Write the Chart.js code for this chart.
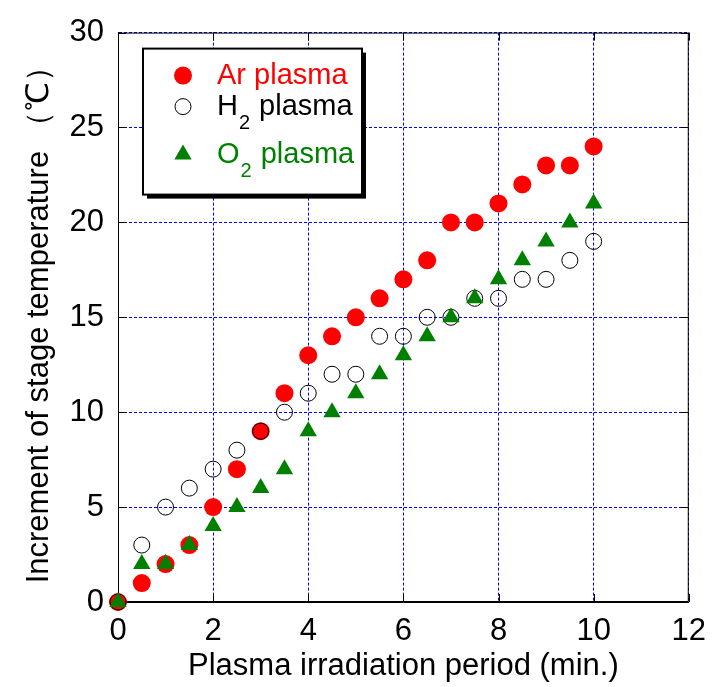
<!DOCTYPE html>
<html>
<head>
<meta charset="utf-8">
<script src="https://cdn.jsdelivr.net/npm/chart.js@4.4.1/dist/chart.umd.min.js"></script>
<style>
  html, body { margin: 0; padding: 0; background: #fff; }
  #wrap { width: 717px; height: 687px; }
</style>
</head>
<body>
<div id="wrap"><canvas id="plasmaChart"></canvas></div>
<script>
// plasma irradiation period (min.)
const periods = [0, 0.5, 1, 1.5, 2, 2.5, 3, 3.5, 4, 4.5, 5, 5.5, 6, 6.5, 7, 7.5, 8, 8.5, 9, 9.5, 10];
// increment of stage temperature
const arTemp = [0, 1, 2, 3, 5, 7, 9, 11, 13, 14, 15, 16, 17, 18, 20, 20, 21, 22, 23, 23, 24];
const h2Temp = [0, 3, 5, 6, 7, 8, 9, 10, 11, 12, 12, 14, 14, 15, 15, 16, 16, 17, 17, 18, 19];
const o2Temp = [0, 2, 2, 3, 4, 5, 6, 7, 9, 10, 11, 12, 13, 14, 15, 16, 17, 18, 19, 20, 21];

const xTicks = [0, 2, 4, 6, 8, 10, 12];
const yTicks = [0, 5, 10, 15, 20, 25, 30];

// legend text: main part, subscript, rest
const legendMain = ['Ar', 'H', 'O'];
const legendSub = ['', '2', '2'];
const legendRest = [' plasma', ' plasma', ' plasma'];

const FONT = "'Liberation Sans', Arial, sans-serif";

function toPoints(ys) {
    return periods.map((x, i) => ({ x: x, y: ys[i] }));
}

// black frame + inward tick marks
const framePlugin = {
    id: 'frame',
    beforeDatasetsDraw(chart) {
        const { ctx, chartArea: a, scales } = chart;
        ctx.save();
        ctx.strokeStyle = '#000';
        ctx.lineWidth = 1;
        ctx.strokeRect(a.left + 0.5, a.top + 0.5, a.right - a.left - 1, a.bottom - a.top - 1);
        ctx.beginPath();
        xTicks.forEach(v => {
            const px = Math.round(scales.x.getPixelForValue(v)) + 0.5;
            ctx.moveTo(px, a.bottom); ctx.lineTo(px, a.bottom - 8);
            ctx.moveTo(px, a.top); ctx.lineTo(px, a.top + 8);
        });
        yTicks.forEach(v => {
            const py = Math.round(scales.y.getPixelForValue(v)) + 0.5;
            ctx.moveTo(a.left, py); ctx.lineTo(a.left + 8, py);
            ctx.moveTo(a.right, py); ctx.lineTo(a.right - 8, py);
        });
        ctx.stroke();
        ctx.restore();
    }
};

// boxed legend with drop shadow and subscripts
const boxLegend = {
    id: 'boxLegend',
    afterDraw(chart) {
        const ctx = chart.ctx;
        const a = chart.chartArea;
        const bx = a.left + 25, by = a.top + 16, bw = 219, bh = 146;
        ctx.save();
        ctx.fillStyle = '#000';
        ctx.fillRect(bx + 4, by + 4, bw, bh);
        ctx.fillStyle = '#fff';
        ctx.fillRect(bx, by, bw, bh);
        ctx.lineWidth = 2;
        ctx.strokeStyle = '#000';
        ctx.strokeRect(bx, by, bw, bh);

        const rowY = [by + 27, by + 58, by + 106];
        chart.data.datasets.forEach((ds, i) => {
            const y = rowY[i];
            ctx.fillStyle = ds.backgroundColor;
            ctx.strokeStyle = ds.borderColor;
            ctx.lineWidth = ds.borderWidth;
            Chart.helpers.drawPoint(ctx, {
                pointStyle: ds.pointStyle,
                radius: ds.pointRadius,
                borderWidth: ds.borderWidth,
                rotation: 0
            }, bx + 40, y);

            ctx.fillStyle = ds.textColor;
            ctx.textBaseline = 'middle';
            ctx.textAlign = 'left';
            let tx = bx + 74;
            ctx.font = '29px ' + FONT;
            ctx.fillText(legendMain[i], tx, y);
            tx += ctx.measureText(legendMain[i]).width;
            if (legendSub[i]) {
                ctx.font = '20px ' + FONT;
                ctx.fillText(legendSub[i], tx + 1, y + 17);
                tx += ctx.measureText(legendSub[i]).width + 2;
            }
            ctx.font = '29px ' + FONT;
            ctx.fillText(legendRest[i], tx, y);
        });
        ctx.restore();
    }
};

const chartCtx = document.getElementById('plasmaChart').getContext('2d');
new Chart(chartCtx, {
    type: 'scatter',
    data: {
        datasets: [
            {
                label: 'Ar plasma',
                data: toPoints(arTemp),
                pointStyle: 'circle',
                pointRadius: 9,
                backgroundColor: '#ff0000',
                borderColor: '#ff0000',
                borderWidth: 0,
                textColor: '#ff0000',
                order: 3,
                clip: false
            },
            {
                label: 'H2 plasma',
                data: toPoints(h2Temp),
                pointStyle: 'circle',
                pointRadius: 8,
                backgroundColor: 'rgba(255,255,255,0)',
                borderColor: '#000000',
                borderWidth: 1,
                textColor: '#000000',
                order: 2,
                clip: false
            },
            {
                label: 'O2 plasma',
                data: toPoints(o2Temp),
                pointStyle: 'triangle',
                pointRadius: 10,
                backgroundColor: '#008000',
                borderColor: '#008000',
                borderWidth: 0,
                textColor: '#008000',
                order: 1,
                clip: false
            }
        ]
    },
    options: {
        responsive: true,
        maintainAspectRatio: false,
        animation: false,
        layout: {
            padding: { top: 27, right: 23, left: 0, bottom: 0 }
        },
        scales: {
            x: {
                type: 'linear',
                min: 0,
                max: 12,
                afterFit: function(scale) { scale.height = 85; },
                afterBuildTicks: function(scale) { scale.ticks = xTicks.map(v => ({ value: v })); },
                grid: {
                    color: '#0000ff',
                    lineWidth: 1,
                    drawTicks: false
                },
                border: { display: true, color: '#000', width: 1, dash: [3, 2] },
                ticks: {
                    color: '#000',
                    padding: 11,
                    font: { family: FONT, size: 31 }
                },
                title: {
                    display: true,
                    text: 'Plasma irradiation period (min.)',
                    color: '#000',
                    padding: { top: 0, bottom: 2 },
                    font: { family: FONT, size: 31 }
                }
            },
            y: {
                type: 'linear',
                min: 0,
                max: 30,
                afterFit: function(scale) { scale.width = 118; },
                afterBuildTicks: function(scale) { scale.ticks = yTicks.map(v => ({ value: v })); },
                grid: {
                    color: '#0000ff',
                    lineWidth: 1,
                    drawTicks: false
                },
                border: { display: true, color: '#000', width: 1, dash: [3, 2] },
                ticks: {
                    color: '#000',
                    padding: 14,
                    font: { family: FONT, size: 31 }
                },
                title: {
                    display: true,
                    text: 'Increment of stage temperature \uFF08\u2103\uFF09',
                    color: '#000',
                    padding: { top: 21, bottom: 0 },
                    font: { family: FONT, size: 31 }
                }
            }
        },
        plugins: {
            legend: { display: false },
            tooltip: { enabled: false }
        }
    },
    plugins: [framePlugin, boxLegend]
});
</script>
</body>
</html>
